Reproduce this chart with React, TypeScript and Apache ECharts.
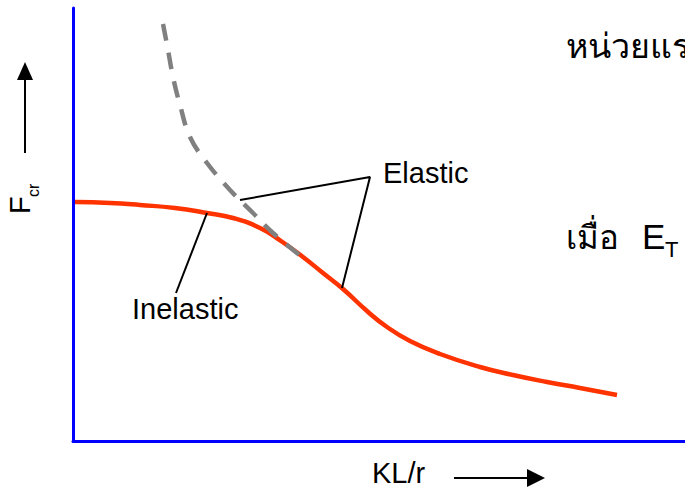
import React, { useEffect, useRef } from "react";
import * as echarts from "echarts";

// Inelastic (tangent-modulus) curve (arbitrary units)
const inelasticX = [2, 37, 67, 102, 134, 160, 187, 208, 230, 250, 270, 294, 314, 337, 367, 407, 440, 474, 507, 544];
const inelasticY = [239, 238, 236, 233, 228, 223, 213, 200, 184, 168, 152, 130, 114, 100, 87, 74, 66, 59, 53, 46];

// Elastic (Euler) curve, dashed
const elasticX = [90, 95, 100, 107, 117, 134, 157, 180, 200, 230, 233];
const elasticY = [417, 391, 364, 336, 304, 278, 251, 228, 208, 183, 180];

// Leader lines
const elasticLeaderX = [167, 297, 269];
const elasticLeaderY = [241, 264, 153];
const inelasticLeaderX = [134, 103];
const inelasticLeaderY = [228, 148];

const FONT = "'Liberation Sans', Arial, sans-serif";
const THAI = "'Noto Sans', 'DejaVu Sans', 'Liberation Sans', sans-serif";

const zip = (xs: number[], ys: number[]) => xs.map((x, i) => [x, ys[i]]);

export default function App() {
  const ref = useRef<HTMLDivElement>(null);
  useEffect(() => {
    if (!ref.current) return;
    const chart = echarts.init(ref.current, undefined, { renderer: "svg" });
    const txt = (text: string, x: number, y: number, size: number, extra: any = {}) => ({
      type: "text",
      x,
      y,
      ...extra,
      style: {
        text,
        font: `${size}px ${extra.family || FONT}`,
        fill: "#000",
        align: "left",
        textAlign: "left",
        verticalAlign: "bottom",
        textVerticalAlign: "bottom",
      },
    });
    chart.setOption({
      animation: false,
      grid: { left: 73, right: 0, top: 8, bottom: 47 },
      xAxis: {
        type: "value",
        min: 0,
        max: 612,
        axisLine: { show: true, onZero: false, lineStyle: { color: "#0000ff", width: 3 } },
        axisTick: { show: false },
        axisLabel: { show: false },
        splitLine: { show: false },
      },
      yAxis: {
        type: "value",
        min: 0,
        max: 433,
        axisLine: { show: true, onZero: false, lineStyle: { color: "#0000ff", width: 3 } },
        axisTick: { show: false },
        axisLabel: { show: false },
        splitLine: { show: false },
      },
      series: [
        {
          type: "line",
          data: zip(inelasticX, inelasticY),
          smooth: 0.5,
          symbol: "none",
          lineStyle: { color: "#ff3300", width: 4.5 },
          z: 2,
        },
        {
          type: "line",
          data: zip(elasticX, elasticY),
          smooth: 0.4,
          symbol: "none",
          lineStyle: { color: "#808080", width: 4.5, type: [17, 12] },
          z: 3,
        },
        {
          type: "line",
          data: zip(elasticLeaderX, elasticLeaderY),
          symbol: "none",
          lineStyle: { color: "#000", width: 2 },
          z: 4,
        },
        {
          type: "line",
          data: zip(inelasticLeaderX, inelasticLeaderY),
          symbol: "none",
          lineStyle: { color: "#000", width: 2 },
          z: 4,
        },
      ],
      graphic: [
        txt("Elastic", 383, 187, 29),
        txt("Inelastic", 132, 323, 29),
        txt("KL/r", 372, 487, 29),
        txt("หน่วยแร", 566, 62, 34, { family: THAI }),
        txt("เมื่อ", 566, 253, 33, { family: THAI }),
        txt("E", 642, 254, 35),
        txt("T", 665, 260, 22),
        txt("F", 34, 214, 29, { rotation: Math.PI / 2 }),
        txt("cr", 41, 197, 16, { rotation: Math.PI / 2 }),
        { type: "line", shape: { x1: 25, y1: 153, x2: 25, y2: 78 }, style: { stroke: "#000", lineWidth: 2 } },
        { type: "polygon", shape: { points: [[25, 62], [17, 80], [33, 80]] }, style: { fill: "#000" } },
        { type: "line", shape: { x1: 454, y1: 478, x2: 529, y2: 478 }, style: { stroke: "#000", lineWidth: 2 } },
        { type: "polygon", shape: { points: [[545, 478], [527, 469], [527, 487]] }, style: { fill: "#000" } },
      ],
    });
    return () => chart.dispose();
  }, []);
  return (
    <div
      ref={ref}
      style={{ position: "fixed", left: 0, top: 0, width: 685, height: 488, background: "#fff" }}
    />
  );
}
